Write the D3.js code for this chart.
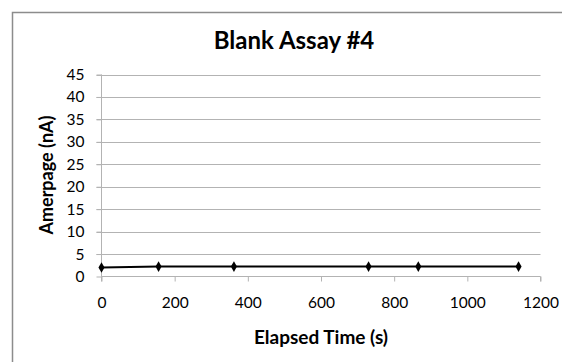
<!DOCTYPE html>
<html><head><meta charset="utf-8">
<script src="https://cdn.jsdelivr.net/npm/d3@7"></script>
<style>body{margin:0;background:#fff}svg{display:block}text{font-family:Lato,"Open Sans",sans-serif}</style>
</head><body>
<script>
const timeSec = [0, 156, 362, 730, 866, 1140];
const amperage = [2.0, 2.2, 2.2, 2.2, 2.2, 2.2];
const xTicks = [0, 200, 400, 600, 800, 1000, 1200];
const yTicks = [0, 5, 10, 15, 20, 25, 30, 35, 40, 45];
const title = "Blank Assay #4";
const xTitle = "Elapsed Time (s)";
const yTitle = "Amerpage (nA)";

(function () {
const W = 562, H = 362;
const svg = d3.select("body").append("svg").attr("width", W).attr("height", H);
svg.append("rect").attr("x", 12.5).attr("y", 12.5).attr("width", W).attr("height", H)
  .attr("fill", "#fff").attr("stroke", "#8c8c8c").attr("stroke-width", 1.5);

const pl = 101.5, pr = 540.5, pt = 74.5, pb = 276.5;
const x = d3.scaleLinear().domain([0, 1200]).range([pl, pr]);
const y = d3.scaleLinear().domain([0, 45]).range([pb, pt]);

svg.append("g").selectAll("line").data(yTicks.filter(d => d > 0)).join("line")
  .attr("x1", pl - 5).attr("x2", pr).attr("y1", d => Math.round(y(d)) + 0.5).attr("y2", d => Math.round(y(d)) + 0.5)
  .attr("stroke", "#b3b3b3").attr("stroke-width", 1);

const xa = svg.append("g").attr("transform", `translate(0,${pb})`)
  .call(d3.axisBottom(x).tickValues(xTicks).tickSize(5).tickPadding(15).tickFormat(d3.format("d")));
const ya = svg.append("g").attr("transform", `translate(${pl},0)`)
  .call(d3.axisLeft(y).tickValues(yTicks).tickSize(5).tickPadding(12).tickFormat(d3.format("d")));
[xa, ya].forEach(g => {
  g.select(".domain").attr("stroke", "#b3b3b3");
  g.selectAll(".tick line").attr("stroke", "#b3b3b3");
  g.selectAll("text").attr("fill", "#000").style("font-size", "15.5px").style("font-family", "Lato, sans-serif");
});
ya.select(".domain").attr("d", `M0,${pt}V${pb}`);
xa.select(".domain").attr("d", `M${pl},5V0H${pr}V5`);

const data = timeSec.map((t, i) => ({t, a: amperage[i]}));
svg.append("path").datum(data)
  .attr("d", d3.line().x(d => x(d.t)).y(d => y(d.a)))
  .attr("fill", "none").attr("stroke", "#000").attr("stroke-width", 2);
svg.append("g").selectAll("path").data(data).join("path")
  .attr("transform", d => `translate(${x(d.t)},${y(d.a)})`)
  .attr("d", d3.symbol(d3.symbolDiamond, 32)).attr("fill", "#000");

svg.append("text").attr("x", 294).attr("y", 49).attr("text-anchor", "middle")
  .style("font-size", "24px").style("font-weight", "bold").text(title);
svg.append("text").attr("x", 321).attr("y", 344).attr("text-anchor", "middle")
  .style("font-size", "19px").style("font-weight", "bold").text(xTitle);
svg.append("text").attr("transform", "translate(53,175) rotate(-90)").attr("text-anchor", "middle")
  .style("font-size", "18px").style("font-weight", "bold").text(yTitle);
})();
</script>
</body></html>
